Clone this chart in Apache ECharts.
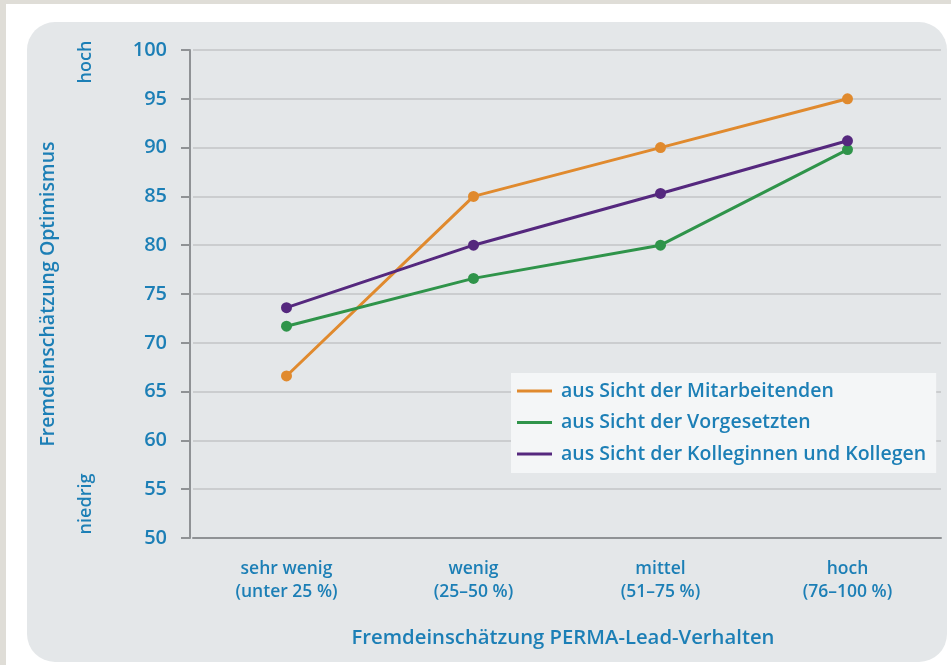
<!DOCTYPE html>
<html>
<head>
<meta charset="utf-8">
<script src="https://cdn.jsdelivr.net/npm/echarts@6/dist/echarts.min.js"></script>
<style>
html,body{margin:0;padding:0;background:#fff;}
#c{width:951px;height:665px;}
</style>
</head>
<body>
<div id="c"></div>
<script>
var categories = ['sehr wenig\n(unter 25 %)', 'wenig\n(25–50 %)', 'mittel\n(51–75 %)', 'hoch\n(76–100 %)'];
var seriesNames = ['aus Sicht der Mitarbeitenden', 'aus Sicht der Vorgesetzten', 'aus Sicht der Kolleginnen und Kollegen'];
var mitarbeitende = [66.6, 85, 90, 95];
var vorgesetzte = [71.7, 76.6, 80, 89.8];
var kollegen = [73.6, 80, 85.3, 90.7];
var yMin = 50, yMax = 100, yStep = 5;
var xTitle = 'Fremdeinschätzung PERMA-Lead-Verhalten';
var yTitle = 'Fremdeinschätzung Optimismus';
var yHigh = 'hoch', yLow = 'niedrig';

var blue = '#1c7fb6';
var font = 'Open Sans';
var fw = 600;
var colors = ['#e08a2e', '#2f944a', '#55287e'];

var chart = echarts.init(document.getElementById('c'), null, {renderer: 'canvas'});

function mk(name, data, color) {
  return {
    name: name, type: 'line', data: data,
    symbol: 'circle', symbolSize: 11,
    lineStyle: {width: 3, color: color},
    itemStyle: {color: color},
    z: 5
  };
}

chart.setOption({
  backgroundColor: '#ffffff',
  animation: false,
  graphic: [
    {type: 'rect', shape: {x: 0, y: 0, width: 951, height: 4}, style: {fill: '#dfddd7'}, z: -10},
    {type: 'rect', shape: {x: 0, y: 0, width: 6, height: 665}, style: {fill: '#dfddd7'}, z: -10},
    {type: 'rect', shape: {x: 27, y: 22, width: 920, height: 640, r: 28}, style: {fill: '#e4e7e9'}, z: -9},
    {type: 'text', x: 86, y: 62, rotation: Math.PI / 2,
      style: {text: yHigh, fill: blue, font: fw + ' 18px "' + font + '"', align: 'center', verticalAlign: 'middle'}},
    {type: 'text', x: 86, y: 504, rotation: Math.PI / 2,
      style: {text: yLow, fill: blue, font: fw + ' 18px "' + font + '"', align: 'center', verticalAlign: 'middle'}}
  ],
  grid: {left: 193, right: 10, top: 50, bottom: 127, containLabel: false},
  legend: {
    orient: 'vertical', left: 511, top: 373,
    backgroundColor: '#f4f6f7',
    padding: [7, 10, 8, 6],
    icon: 'rect', itemWidth: 35, itemHeight: 3, itemGap: 9.5,
    textStyle: {color: blue, fontFamily: font, fontWeight: fw, fontSize: 19.5, lineHeight: 22, padding: [0, 0, 0, 4]},
    data: seriesNames
  },
  xAxis: {
    type: 'category', data: categories, boundaryGap: true,
    axisLine: {lineStyle: {color: '#8f9295', width: 2}},
    axisTick: {alignWithLabel: true, length: 8, lineStyle: {color: '#8f9295', width: 6}},
    axisLabel: {color: blue, fontFamily: font, fontWeight: fw, fontSize: 17.5, lineHeight: 23, margin: 20},
    name: xTitle, nameLocation: 'middle', nameGap: 90,
    nameTextStyle: {color: blue, fontFamily: font, fontWeight: fw, fontSize: 20.3, padding: [0, 8, 0, 0]}
  },
  yAxis: {
    type: 'value', min: yMin, max: yMax, interval: yStep, offset: 3,
    axisLine: {show: true, lineStyle: {color: '#8f9295', width: 2}},
    axisTick: {show: true, length: 9, lineStyle: {color: '#8f9295', width: 2}},
    axisLabel: {color: blue, fontFamily: font, fontWeight: fw, fontSize: 20, margin: 23},
    splitLine: {lineStyle: {color: '#cbcdcf', width: 2}},
    name: yTitle, nameLocation: 'middle', nameGap: 132, nameRotate: 90,
    nameTextStyle: {color: blue, fontFamily: font, fontWeight: fw, fontSize: 19.5}
  },
  series: [
    mk(seriesNames[0], mitarbeitende, colors[0]),
    mk(seriesNames[1], vorgesetzte, colors[1]),
    mk(seriesNames[2], kollegen, colors[2])
  ]
});
</script>
</body>
</html>
